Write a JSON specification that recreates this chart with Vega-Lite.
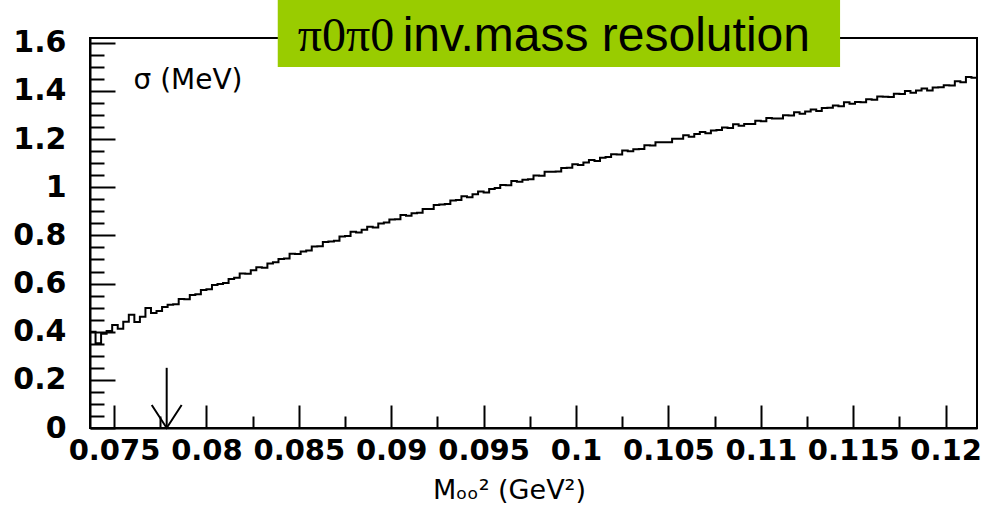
{
  "$schema": "https://vega.github.io/schema/vega-lite/v6.json",
  "width": 887,
  "height": 390,
  "autosize": "none",
  "padding": {"left": 90, "top": 38, "right": 10, "bottom": 78},
  "background": "white",
  "config": {"view": {"stroke": "black", "strokeWidth": 2}},
  "datasets": {
    "hist": [
      {"x":0.0737,"s":0.400},{"x":0.0740,"s":0.352},{"x":0.0743,"s":0.392},{"x":0.0746,"s":0.403},{"x":0.0749,"s":0.428},
      {"x":0.0752,"s":0.412},{"x":0.0755,"s":0.441},{"x":0.0758,"s":0.470},{"x":0.0761,"s":0.440},{"x":0.0764,"s":0.462},
      {"x":0.0767,"s":0.498},{"x":0.0770,"s":0.478},{"x":0.0773,"s":0.486},{"x":0.0776,"s":0.503},{"x":0.0779,"s":0.512},
      {"x":0.0782,"s":0.514},{"x":0.0785,"s":0.536},{"x":0.0788,"s":0.535},{"x":0.0791,"s":0.552},{"x":0.0794,"s":0.556},
      {"x":0.0797,"s":0.573},{"x":0.0800,"s":0.576},{"x":0.0803,"s":0.594},{"x":0.0806,"s":0.598},{"x":0.0809,"s":0.602},
      {"x":0.0812,"s":0.619},{"x":0.0815,"s":0.624},{"x":0.0818,"s":0.642},{"x":0.0821,"s":0.641},{"x":0.0824,"s":0.655},
      {"x":0.0827,"s":0.668},{"x":0.0830,"s":0.666},{"x":0.0833,"s":0.683},{"x":0.0836,"s":0.688},{"x":0.0839,"s":0.702},
      {"x":0.0842,"s":0.704},{"x":0.0845,"s":0.724},{"x":0.0848,"s":0.723},{"x":0.0851,"s":0.733},{"x":0.0854,"s":0.737},
      {"x":0.0857,"s":0.754},{"x":0.0860,"s":0.755},{"x":0.0863,"s":0.773},{"x":0.0866,"s":0.775},{"x":0.0869,"s":0.778},
      {"x":0.0872,"s":0.795},{"x":0.0875,"s":0.798},{"x":0.0878,"s":0.815},{"x":0.0881,"s":0.812},{"x":0.0884,"s":0.824},
      {"x":0.0887,"s":0.836},{"x":0.0890,"s":0.833},{"x":0.0893,"s":0.849},{"x":0.0896,"s":0.854},{"x":0.0899,"s":0.866},
      {"x":0.0902,"s":0.867},{"x":0.0905,"s":0.885},{"x":0.0908,"s":0.882},{"x":0.0911,"s":0.892},{"x":0.0914,"s":0.894},
      {"x":0.0917,"s":0.910},{"x":0.0920,"s":0.910},{"x":0.0923,"s":0.926},{"x":0.0926,"s":0.928},{"x":0.0929,"s":0.930},
      {"x":0.0932,"s":0.945},{"x":0.0935,"s":0.947},{"x":0.0938,"s":0.963},{"x":0.0941,"s":0.959},{"x":0.0944,"s":0.971},
      {"x":0.0947,"s":0.982},{"x":0.0950,"s":0.978},{"x":0.0953,"s":0.993},{"x":0.0956,"s":0.997},{"x":0.0959,"s":1.009},
      {"x":0.0962,"s":1.008},{"x":0.0965,"s":1.026},{"x":0.0968,"s":1.023},{"x":0.0971,"s":1.031},{"x":0.0974,"s":1.033},
      {"x":0.0977,"s":1.049},{"x":0.0980,"s":1.048},{"x":0.0983,"s":1.064},{"x":0.0986,"s":1.064},{"x":0.0989,"s":1.065},
      {"x":0.0992,"s":1.080},{"x":0.0995,"s":1.081},{"x":0.0998,"s":1.096},{"x":0.1001,"s":1.092},{"x":0.1004,"s":1.103},
      {"x":0.1007,"s":1.113},{"x":0.1010,"s":1.109},{"x":0.1013,"s":1.123},{"x":0.1016,"s":1.126},{"x":0.1019,"s":1.137},
      {"x":0.1022,"s":1.136},{"x":0.1025,"s":1.153},{"x":0.1028,"s":1.150},{"x":0.1031,"s":1.158},{"x":0.1034,"s":1.159},
      {"x":0.1037,"s":1.174},{"x":0.1040,"s":1.173},{"x":0.1043,"s":1.187},{"x":0.1046,"s":1.187},{"x":0.1049,"s":1.187},
      {"x":0.1052,"s":1.201},{"x":0.1055,"s":1.201},{"x":0.1058,"s":1.216},{"x":0.1061,"s":1.210},{"x":0.1064,"s":1.221},
      {"x":0.1067,"s":1.230},{"x":0.1070,"s":1.224},{"x":0.1073,"s":1.236},{"x":0.1076,"s":1.238},{"x":0.1079,"s":1.248},
      {"x":0.1082,"s":1.246},{"x":0.1085,"s":1.262},{"x":0.1088,"s":1.256},{"x":0.1091,"s":1.263},{"x":0.1094,"s":1.263},
      {"x":0.1097,"s":1.276},{"x":0.1100,"s":1.274},{"x":0.1103,"s":1.288},{"x":0.1106,"s":1.286},{"x":0.1109,"s":1.286},
      {"x":0.1112,"s":1.299},{"x":0.1115,"s":1.298},{"x":0.1118,"s":1.312},{"x":0.1121,"s":1.305},{"x":0.1124,"s":1.315},
      {"x":0.1127,"s":1.323},{"x":0.1130,"s":1.317},{"x":0.1133,"s":1.329},{"x":0.1136,"s":1.330},{"x":0.1139,"s":1.340},
      {"x":0.1142,"s":1.337},{"x":0.1145,"s":1.353},{"x":0.1148,"s":1.347},{"x":0.1151,"s":1.354},{"x":0.1154,"s":1.353},
      {"x":0.1157,"s":1.366},{"x":0.1160,"s":1.364},{"x":0.1163,"s":1.377},{"x":0.1166,"s":1.376},{"x":0.1169,"s":1.375},
      {"x":0.1172,"s":1.388},{"x":0.1175,"s":1.387},{"x":0.1178,"s":1.400},{"x":0.1181,"s":1.393},{"x":0.1184,"s":1.402},
      {"x":0.1187,"s":1.410},{"x":0.1190,"s":1.402},{"x":0.1193,"s":1.414},{"x":0.1196,"s":1.415},{"x":0.1199,"s":1.424},
      {"x":0.1202,"s":1.423},{"x":0.1205,"s":1.440},{"x":0.1208,"s":1.436},{"x":0.1211,"s":1.458},{"x":0.1214,"s":1.455},
      {"x":0.1217,"s":1.455}
    ]
  },
  "layer": [
    {
      "data": {"name": "hist"},
      "mark": {"type": "line", "interpolate": "step-after", "color": "black", "strokeWidth": 2, "clip": true},
      "encoding": {
        "x": {
          "field": "x", "type": "quantitative",
          "scale": {"domain": [0.0737, 0.1217], "nice": false, "zero": false},
          "axis": {
            "orient": "bottom",
            "values": [0.075, 0.08, 0.085, 0.09, 0.095, 0.1, 0.105, 0.11, 0.115, 0.12],
            "labelExpr": "'' + datum.value",
            "ticks": false, "grid": false,
            "domain": true, "domainColor": "black", "domainWidth": 2,
            "labelFont": "DejaVu Sans", "labelFontWeight": "bold", "labelFontSize": 29,
            "labelColor": "black", "labelPadding": 8, "labelOverlap": false, "labelFlush": false,
            "title": "Mₒₒ² (GeV²)",
            "titleFont": "DejaVu Sans", "titleFontWeight": "normal", "titleFontSize": 27, "titleColor": "black",
            "titleX": 419, "titleY": 62, "titleAlign": "center", "titleBaseline": "middle", "titleAnchor": null
          }
        },
        "y": {
          "field": "s", "type": "quantitative",
          "scale": {"domain": [0, 1.62], "nice": false, "zero": false},
          "axis": {
            "orient": "left",
            "values": [0, 0.2, 0.4, 0.6, 0.8, 1, 1.2, 1.4, 1.6],
            "labelExpr": "'' + datum.value",
            "ticks": false, "grid": false,
            "domain": true, "domainColor": "black", "domainWidth": 2,
            "labelFont": "DejaVu Sans", "labelFontWeight": "bold", "labelFontSize": 30,
            "labelColor": "black", "labelPadding": 24, "labelOverlap": false, "labelFlush": false,
            "title": "σ (MeV)",
            "titleFont": "DejaVu Sans", "titleFontWeight": "normal", "titleFontSize": 28, "titleColor": "black",
            "titleAngle": 0, "titleX": 43, "titleY": 42, "titleAlign": "left", "titleBaseline": "middle", "titleAnchor": null
          }
        }
      }
    },
    {
      "data": {"values": [{"xa": 0.07785, "ytop": 0.25, "ybot": 0}]},
      "mark": {"type": "rule", "color": "black", "strokeWidth": 2},
      "encoding": {
        "x": {
          "field": "xa", "type": "quantitative",
          "scale": {"domain": [0.0737, 0.1217], "nice": false, "zero": false},
          "axis": {
            "orient": "bottom",
            "values": [0.075, 0.08, 0.085, 0.09, 0.095, 0.1, 0.105, 0.11, 0.115, 0.12],
            "labels": false, "domain": false, "grid": false, "title": null,
            "ticks": true, "tickSize": -23, "tickWidth": 2, "tickColor": "black"
          }
        },
        "y": {
          "field": "ytop", "type": "quantitative",
          "scale": {"domain": [0, 1.62], "nice": false, "zero": false},
          "axis": {
            "orient": "left",
            "values": [0, 0.2, 0.4, 0.6, 0.8, 1, 1.2, 1.4, 1.6],
            "labels": false, "domain": false, "grid": false, "title": null,
            "ticks": true, "tickSize": -25, "tickWidth": 2, "tickColor": "black"
          }
        },
        "y2": {"field": "ybot"}
      }
    },
    {
      "data": {"values": [{"xa": 0.07785, "ybot": 0}]},
      "mark": {"type": "point", "shape": "M -0.65,-1 L 0,0 L 0.65,-1", "filled": false, "stroke": "black", "strokeWidth": 2, "size": 2116, "opacity": 1},
      "encoding": {
        "x": {
          "field": "xa", "type": "quantitative",
          "scale": {"domain": [0.0737, 0.1217], "nice": false, "zero": false},
          "axis": {
            "orient": "bottom",
            "values": [0.0775, 0.0825, 0.0875, 0.0925, 0.0975, 0.1025, 0.1075, 0.1125, 0.1175],
            "labels": false, "domain": false, "grid": false, "title": null,
            "ticks": true, "tickSize": -12, "tickWidth": 2, "tickColor": "black"
          }
        },
        "y": {
          "field": "ybot", "type": "quantitative",
          "scale": {"domain": [0, 1.62], "nice": false, "zero": false},
          "axis": {
            "orient": "left",
            "values": [0.05, 0.1, 0.15, 0.25, 0.3, 0.35, 0.45, 0.5, 0.55, 0.65, 0.7, 0.75, 0.85, 0.9, 0.95, 1.05, 1.1, 1.15, 1.25, 1.3, 1.35, 1.45, 1.5, 1.55],
            "labels": false, "domain": false, "grid": false, "title": null,
            "ticks": true, "tickSize": -14, "tickWidth": 2, "tickColor": "black"
          }
        }
      }
    },
    {
      "data": {"values": [{"x1": 0.08386, "x2": 0.11429, "y1": 1.78, "y2": 1.4996}]},
      "mark": {"type": "rect", "color": "#99CC00", "clip": false},
      "encoding": {
        "x": {"field": "x1", "type": "quantitative", "scale": {"domain": [0.0737, 0.1217], "nice": false, "zero": false}, "axis": null},
        "x2": {"field": "x2"},
        "y": {"field": "y1", "type": "quantitative", "scale": {"domain": [0, 1.62], "nice": false, "zero": false}, "axis": null},
        "y2": {"field": "y2"}
      }
    },
    {
      "data": {"values": [{"tx": 0.08494, "ty": 1.566, "label": "π0π0"}]},
      "mark": {"type": "text", "align": "left", "baseline": "alphabetic", "font": "Liberation Serif", "fontSize": 48, "color": "black", "clip": false},
      "encoding": {
        "x": {"field": "tx", "type": "quantitative", "scale": {"domain": [0.0737, 0.1217], "nice": false, "zero": false}, "axis": null},
        "y": {"field": "ty", "type": "quantitative", "scale": {"domain": [0, 1.62], "nice": false, "zero": false}, "axis": null},
        "text": {"field": "label"}
      }
    },
    {
      "data": {"values": [{"tx": 0.09062, "ty": 1.566, "label": "inv.mass resolution"}]},
      "mark": {"type": "text", "align": "left", "baseline": "alphabetic", "font": "Liberation Sans", "fontSize": 48, "color": "black", "clip": false},
      "encoding": {
        "x": {"field": "tx", "type": "quantitative", "scale": {"domain": [0.0737, 0.1217], "nice": false, "zero": false}, "axis": null},
        "y": {"field": "ty", "type": "quantitative", "scale": {"domain": [0, 1.62], "nice": false, "zero": false}, "axis": null},
        "text": {"field": "label"}
      }
    }
  ],
  "resolve": {"axis": {"x": "independent", "y": "independent"}}
}
